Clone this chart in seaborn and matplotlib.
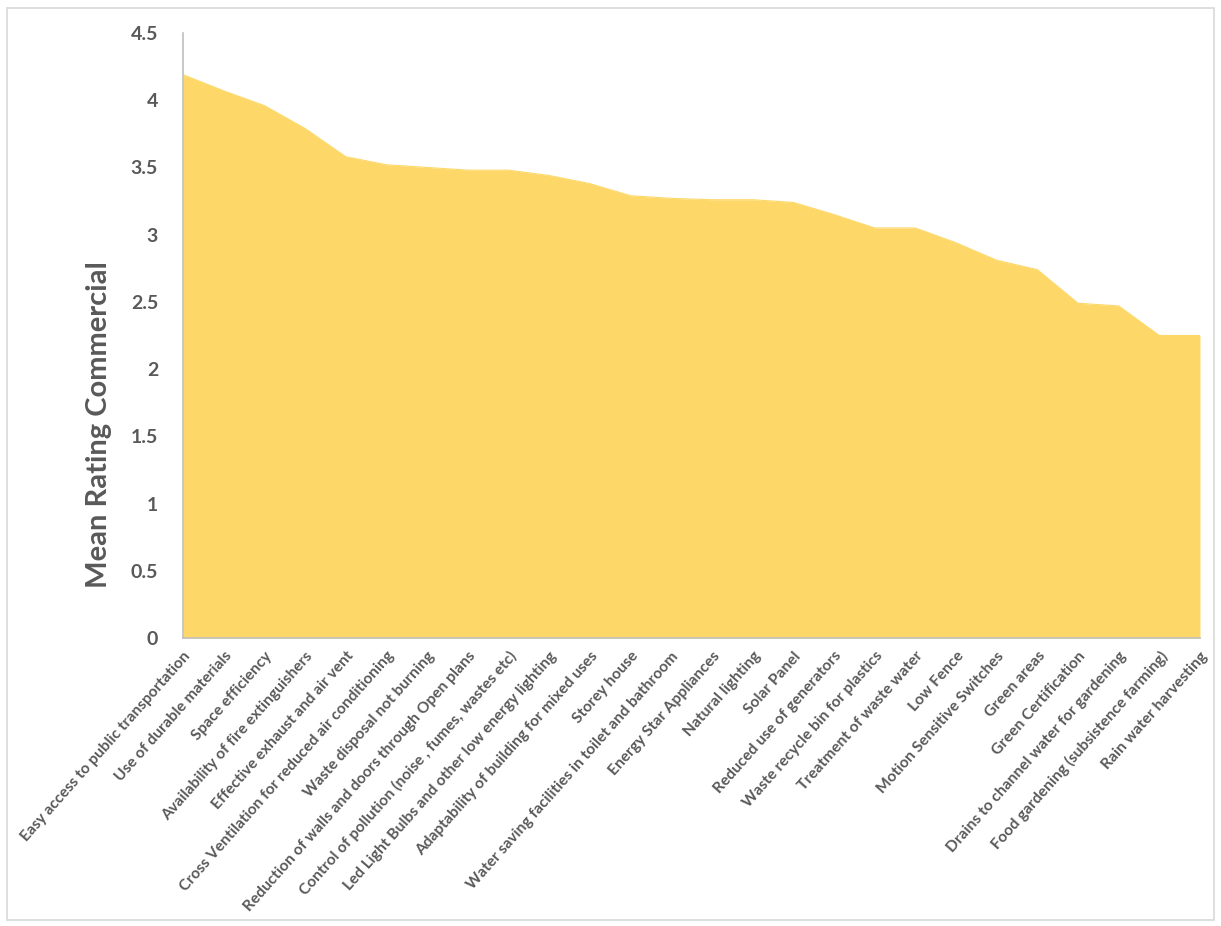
import matplotlib
matplotlib.use("Agg")
import matplotlib.pyplot as plt
import seaborn as sns
import pandas as pd
import numpy as np

categories = [
    "Easy access to public transportation",
    "Use of durable materials",
    "Space efficiency",
    "Availability of fire extinguishers",
    "Effective exhaust and air vent",
    "Cross Ventilation for reduced air conditioning",
    "Waste disposal not burning",
    "Reduction of walls and doors through Open plans",
    "Control of pollution (noise , fumes, wastes etc)",
    "Led Light Bulbs and other low energy lighting",
    "Adaptability of building for mixed uses",
    "Storey house",
    "Water saving facilities in toilet and bathroom",
    "Energy Star Appliances",
    "Natural lighting",
    "Solar Panel",
    "Reduced use of generators",
    "Waste recycle bin for plastics",
    "Treatment of waste water",
    "Low Fence",
    "Motion Sensitive Switches",
    "Green areas",
    "Green Certification",
    "Drains to channel water for gardening",
    "Food gardening (subsistence farming)",
    "Rain water harvesting",
]
mean_rating = [4.19, 4.07, 3.96, 3.79, 3.58, 3.52, 3.50, 3.48, 3.48, 3.44,
               3.38, 3.29, 3.27, 3.26, 3.26, 3.24, 3.15, 3.05, 3.05, 2.94,
               2.81, 2.74, 2.49, 2.47, 2.25, 2.25]
y_ticks = [0, 0.5, 1, 1.5, 2, 2.5, 3, 3.5, 4, 4.5]
y_tick_labels = ["0", "0.5", "1", "1.5", "2", "2.5", "3", "3.5", "4", "4.5"]

df = pd.DataFrame({"pos": np.arange(len(categories)), "category": categories,
                   "rating": mean_rating})

sns.set_theme(style="white")
plt.rcParams["font.family"] = ["Lato", "DejaVu Sans"]

W, H, DPI = 1221, 926, 100
fig = plt.figure(figsize=(W / DPI, H / DPI), dpi=DPI)
ax = fig.add_axes([183 / W, 1 - 638 / H, (1200 - 183) / W, (638 - 33) / H])

fill_color = "#FDD868"
sns.lineplot(data=df, x="pos", y="rating", ax=ax, color=fill_color, linewidth=0.8)
ax.fill_between(df["pos"], df["rating"], 0, color=fill_color, linewidth=0)

ax.set_xlim(0, len(categories) - 1)
ax.set_ylim(0, 4.5)
ax.set_yticks(y_ticks)
ax.set_yticklabels(y_tick_labels, fontsize=14, fontweight="bold", color="#595959")
ax.set_xticks(df["pos"])
ax.set_xticklabels(categories, rotation=48.5, ha="right", rotation_mode="anchor",
                   fontsize=11.2, fontweight="bold", color="#595959")
ax.tick_params(axis="both", length=0)
ax.tick_params(axis="y", pad=18)
ax.tick_params(axis="x", pad=8)
ax.set_xlabel("")
ax.set_ylabel("Mean Rating Commercial", fontsize=21, fontweight="bold",
              color="#595959")
ax.yaxis.set_label_coords(-0.07, 0.352)

for side in ["top", "right"]:
    ax.spines[side].set_visible(False)
for side in ["left", "bottom"]:
    ax.spines[side].set_color("#bfbfbf")
    ax.spines[side].set_linewidth(1.2)

# outer chart border
fig.patches.append(plt.Rectangle((7 / W, 1 - 920 / H), (1214 - 7) / W, (920 - 8) / H,
                                 transform=fig.transFigure, fill=False,
                                 edgecolor="#d9d9d9", linewidth=1.2))

fig.savefig("out.png", dpi=DPI)
